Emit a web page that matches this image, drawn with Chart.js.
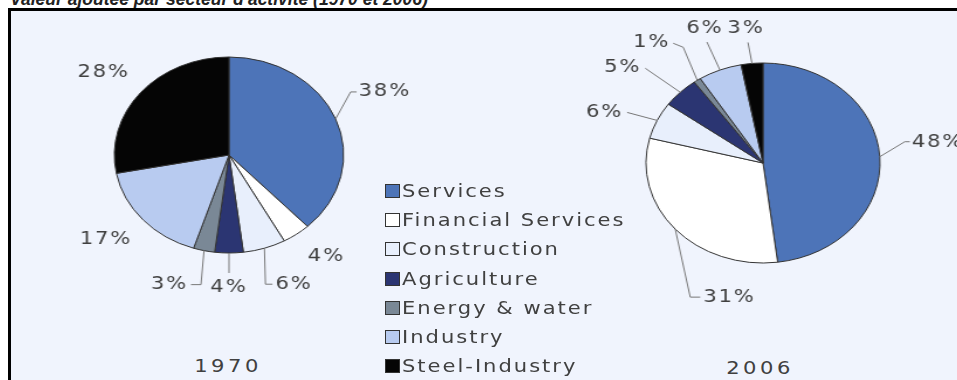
<!DOCTYPE html>
<html>
<head>
<meta charset="utf-8">
<script src="https://cdn.jsdelivr.net/npm/chart.js@4"></script>
<style>
html, body { margin: 0; padding: 0; background: #fff; width: 957px; height: 380px; overflow: hidden; position: relative;
             font-family: "DejaVu Sans", sans-serif; color: #404040; }
#title { position: absolute; left: 10px; top: -10px; font: italic bold 17.5px "Liberation Sans", Arial, sans-serif;
         line-height: 18px; color: #222; white-space: nowrap; z-index: 0; }
#frame { position: absolute; left: 8px; top: 8px; width: 960px; height: 380px; border-top: 3px solid #000;
         border-left: 3px solid #000; background: #f0f4fd; z-index: 1; }
.pie { position: absolute; width: 400px; height: 360px; transform: scaleX(1.17); transform-origin: 0 0; z-index: 2; }
#legend { position: absolute; left: 385px; top: 0; z-index: 3; }
.row { position: absolute; left: 0; height: 20px; white-space: nowrap; }
.box { position: absolute; left: 0; top: 3px; width: 13px; height: 12px; border: 1px solid #333; }
.txt { position: absolute; left: 17px; top: 0; font-size: 18px; line-height: 20px; letter-spacing: 1.7px;
       transform: scaleX(1.17); transform-origin: 0 50%; }
.year { position: absolute; width: 120px; text-align: center; font-size: 18px; line-height: 20px; letter-spacing: 3px;
        transform: scaleX(1.17); z-index: 3; }
</style>
</head>
<body>
<div id="title">Valeur ajoutée par secteur d'activité (1970 et 2006)</div>
<div id="frame"></div>
<div class="pie" style="left:-5px; top:-25px;"><canvas id="pie1970"></canvas></div>
<div class="pie" style="left:529px; top:-17px;"><canvas id="pie2006"></canvas></div>
<div id="legend"></div>
<div class="year" id="y0" style="left:168px; top:356px;"></div>
<div class="year" id="y1" style="left:700px; top:358px;"></div>
<script>
'use strict';

const sectors   = ['Services', 'Financial Services', 'Construction', 'Agriculture',
                   'Energy & water', 'Industry', 'Steel-Industry'];
const years     = ['1970', '2006'];
const share1970 = [38, 4, 6, 4, 3, 17, 28];
const share2006 = [48, 31, 6, 5, 1, 6, 3];

const colors = ['#4d74b8', '#ffffff', '#e8effc', '#2b3572', '#7a8896', '#b8cbf0', '#050505'];
const SX = 1.17;   // horizontal stretch of the original picture

// label placement: offsets (page px) from the slice's outer edge at mid-angle
const layout1970 = [
    { text: [23, -28], align: 'left',   line: [[15, -27], [21, -27]] },
    { text: [30, 22],  align: 'center' },
    { text: [11, 36],  align: 'left',   line: [[1, 36], [8, 36]] },
    { text: [0, 34],   align: 'center', line: [[0, 20]] },
    { text: [-16, 34], align: 'right',  line: [[-3, 34], [-13, 34]] },
    { text: [-37, 20], align: 'center' },
    { text: [-37, -20], align: 'center' }
];
const layout2006 = [
    { text: [32, -14], align: 'left',   line: [[25, -15], [30, -15]] },
    { text: [28, 68],  align: 'left',   line: [[15, 68], [25, 68]] },
    { text: [-34, -8], align: 'right',  line: [[-30, -8]] },
    { text: [-39, -25], align: 'right', line: [[-35, -24]] },
    { text: [-27, -38], align: 'right', line: [[-14, -33], [-24, -37]] },
    { text: [-15, -42], align: 'center', line: [[-13, -28]] },
    { text: [-6, -35], align: 'center', line: [[-4, -21]] }
];

const pctLabels = {
    id: 'pctLabels',
    afterDatasetsDraw(chart, args, opts) {
        const ctx  = chart.ctx;
        const meta = chart.getDatasetMeta(0);
        const vals = chart.data.datasets[0].data;
        ctx.save();
        ctx.font = '18px "DejaVu Sans"';
        ctx.letterSpacing = '1.6px';
        ctx.fillStyle = '#404040';
        ctx.strokeStyle = '#777';
        ctx.lineWidth = 1;
        ctx.textBaseline = 'middle';
        meta.data.forEach((arc, i) => {
            const p   = arc.getProps(['x', 'y', 'startAngle', 'endAngle', 'outerRadius'], true);
            const mid = (p.startAngle + p.endAngle) / 2;
            const ex  = p.x + Math.cos(mid) * p.outerRadius;
            const ey  = p.y + Math.sin(mid) * p.outerRadius;
            const L   = opts.layout[i];
            if (L.line) {
                ctx.beginPath();
                ctx.moveTo(ex, ey);
                L.line.forEach(([dx, dy]) => ctx.lineTo(ex + dx / SX, ey + dy));
                ctx.stroke();
            }
            ctx.textAlign = L.align;
            ctx.fillText(vals[i] + '%', ex + L.text[0] / SX, ey + L.text[1]);
        });
        ctx.restore();
    }
};

function makePie(id, values, radius, layout) {
    return new Chart(document.getElementById(id).getContext('2d'), {
        type: 'pie',
        data: { labels: sectors,
                datasets: [{ data: values, backgroundColor: colors,
                             borderColor: '#333', borderWidth: 1 }] },
        options: {
            animation: false,
            responsive: true,
            maintainAspectRatio: false,
            events: [],
            radius: radius,
            layout: { padding: 0 },
            plugins: { legend: { display: false }, tooltip: { enabled: false },
                       pctLabels: { layout: layout } }
        },
        plugins: [pctLabels]
    });
}

makePie('pie1970', share1970, 98, layout1970);
makePie('pie2006', share2006, 100, layout2006);

// legend built from the same arrays
const legendEl = document.getElementById('legend');
sectors.forEach((name, i) => {
    const row = document.createElement('div');
    row.className = 'row';
    row.style.top = (181 + i * 29.2) + 'px';
    row.innerHTML = '<span class="box" style="background:' + colors[i] + '"></span><span class="txt"></span>';
    row.querySelector('.txt').textContent = name;
    legendEl.appendChild(row);
});
document.getElementById('y0').textContent = years[0];
document.getElementById('y1').textContent = years[1];
</script>
</body>
</html>
